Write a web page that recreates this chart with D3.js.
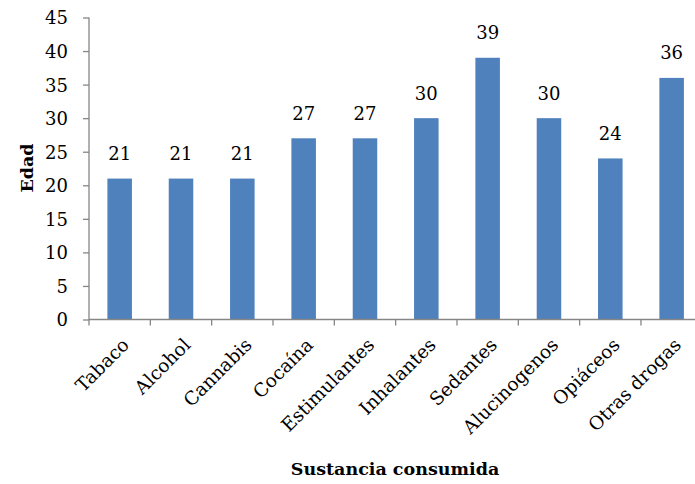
<!DOCTYPE html>
<html><head><meta charset="utf-8">
<script src="https://cdn.jsdelivr.net/npm/d3@7"></script>
<style>body{margin:0;background:#fff}svg{display:block}text{font-family:"DejaVu Serif",serif;fill:#000}</style>
</head><body>
<svg id="c" width="695" height="484"></svg>
<script>
const categories = ["Tabaco","Alcohol","Cannabis","Cocaína","Estimulantes","Inhalantes","Sedantes","Alucinogenos","Opiáceos","Otras drogas"];
const values = [21,21,21,27,27,30,39,30,24,36];
const yTicks = [0,5,10,15,20,25,30,35,40,45];

const svg = d3.select("#c");
const x = d3.scaleBand().domain(categories).range([89, 702.3]).paddingInner(0.6).paddingOuter(0.3);
const y = d3.scaleLinear().domain([0,45]).range([319.5, 17.5]);
const axisColor = "#868686";
const fs = "18px";
const fsT = "17.5px";

svg.selectAll("rect.bar").data(values).join("rect")
  .attr("x",(d,i)=>x(categories[i])).attr("width",x.bandwidth())
  .attr("y",d=>y(d)).attr("height",d=>y(0)-y(d)).attr("fill","#4F81BD");

// y axis
const ya = svg.append("g").attr("transform","translate(89,0)")
  .call(d3.axisLeft(y).tickValues(yTicks).tickSize(6).tickPadding(15));
ya.attr("font-family",null);
ya.selectAll("line,path").attr("stroke",axisColor).attr("stroke-width",1.3);
ya.selectAll("text").style("font-size",fs).attr("fill","#000").attr("dy","0.36em");
ya.select(".domain").attr("d","M0,"+y(45)+"V"+y(0));

// x axis
const band = 702.3-89;
const step = band/categories.length;
const xa = svg.append("g").attr("transform","translate(0,"+y(0)+")");
xa.append("line").attr("x1",89).attr("x2",702.3).attr("stroke",axisColor).attr("stroke-width",1.3);
xa.selectAll("line.t").data(d3.range(categories.length+1)).join("line")
  .attr("x1",i=>89+i*step).attr("x2",i=>89+i*step).attr("y1",0).attr("y2",6)
  .attr("stroke",axisColor).attr("stroke-width",1.3);
xa.selectAll("text").data(categories).join("text")
  .attr("transform",d=>"translate("+(x(d)+x.bandwidth()/2+6)+",22) rotate(-45)")
  .attr("text-anchor","end").attr("dy","0.35em")
  .style("font-size","18.5px").text(d=>d);

// value labels
svg.selectAll("text.v").data(values).join("text").attr("class","v")
  .attr("x",(d,i)=>x(categories[i])+x.bandwidth()/2).attr("y",d=>y(d)-18.5)
  .attr("text-anchor","middle").style("font-size",fs).text(d=>d);

// titles
svg.append("text").attr("transform","translate(33,168) rotate(-90)")
  .attr("text-anchor","middle").style("font-size",fsT).style("font-weight","bold").text("Edad");
svg.append("text").attr("x",395).attr("y",475)
  .attr("text-anchor","middle").style("font-size",fsT).style("font-weight","bold").text("Sustancia consumida");
</script>
</body></html>
